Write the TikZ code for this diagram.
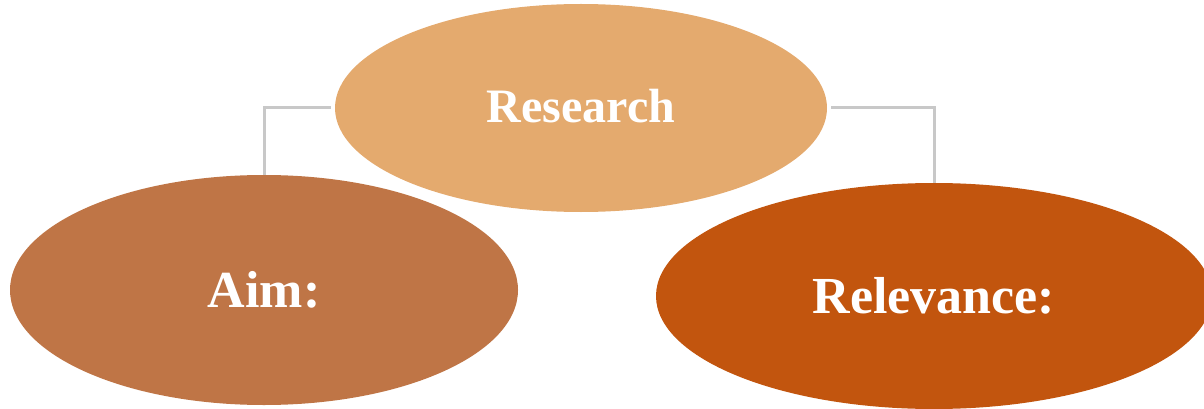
\documentclass[tikz,border=0pt]{standalone}
\usepackage{fontspec}
\setmainfont{Liberation Serif}
\usetikzlibrary{shapes.geometric}
\definecolor{resfill}{HTML}{E4AA6E}
\definecolor{aimfill}{HTML}{BF7546}
\definecolor{relfill}{HTML}{C2550E}
\definecolor{linkgray}{HTML}{C8C8C8}
\tikzset{
  blob/.style={ellipse,fill=#1,text=white,font=\bfseries,inner sep=0pt},
  link/.style={draw=linkgray,line width=3pt}
}
\begin{document}
\begin{tikzpicture}[x=1pt,y=-1pt]
  \useasboundingbox (0,0) rectangle (1204,409);
  % top and the two below
  \node[blob=resfill,minimum width=492pt,minimum height=208pt,font=\bfseries\fontsize{48}{52}\selectfont] (research) at (581,108) {\raisebox{5pt}{Research}};
  \node[blob=aimfill,minimum width=508pt,minimum height=230pt,font=\bfseries\fontsize{52}{56}\selectfont] (aim) at (264,290) {Aim:};
  \node[blob=relfill,minimum width=556pt,minimum height=226pt,font=\bfseries\fontsize{52}{56}\selectfont] (relevance) at (934,296) {Relevance:};
  % links
  \coordinate (resleft) at ([xshift=-4pt]research.west);
  \coordinate (resright) at ([xshift=4pt]research.east);
  \draw[link] (resleft) -| (aim.north);
  \draw[link] (resright) -| (relevance.north);
\end{tikzpicture}
\end{document}
